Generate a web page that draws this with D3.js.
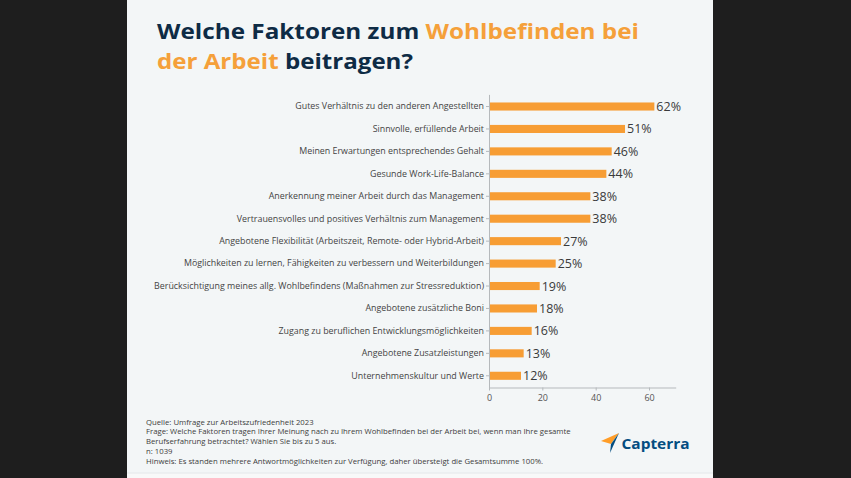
<!DOCTYPE html>
<html>
<head>
<meta charset="utf-8">
<script src="https://cdn.jsdelivr.net/npm/d3@7"></script>
<style>
  html, body { margin: 0; padding: 0; background: #1e1e1e; }
  svg { display: block; font-family: "Open Sans", sans-serif; }
</style>
</head>
<body>
<svg id="chart" width="851" height="478"></svg>
<script>
const categories = [
  "Gutes Verhältnis zu den anderen Angestellten",
  "Sinnvolle, erfüllende Arbeit",
  "Meinen Erwartungen entsprechendes Gehalt",
  "Gesunde Work-Life-Balance",
  "Anerkennung meiner Arbeit durch das Management",
  "Vertrauensvolles und positives Verhältnis zum Management",
  "Angebotene Flexibilität (Arbeitszeit, Remote- oder Hybrid-Arbeit)",
  "Möglichkeiten zu lernen, Fähigkeiten zu verbessern und Weiterbildungen",
  "Berücksichtigung meines allg. Wohlbefindens (Maßnahmen zur Stressreduktion)",
  "Angebotene zusätzliche Boni",
  "Zugang zu beruflichen Entwicklungsmöglichkeiten",
  "Angebotene Zusatzleistungen",
  "Unternehmenskultur und Werte"
];
const values = [62, 51, 46, 44, 38, 38, 27, 25, 19, 18, 16, 13, 12];
const xTicks = [0, 20, 40, 60];
const titleLine1 = [["Welche Faktoren zum ", "navy"], ["Wohlbefinden bei", "orange"]];
const titleLine2 = [["der Arbeit", "orange"], [" beitragen?", "navy"]];
const notes = [
  "Quelle: Umfrage zur Arbeitszufriedenheit 2023",
  "Frage: Welche Faktoren tragen Ihrer Meinung nach zu Ihrem Wohlbefinden bei der Arbeit bei, wenn man Ihre gesamte",
  "Berufserfahrung betrachtet? Wählen Sie bis zu 5 aus.",
  "n: 1039",
  "Hinweis: Es standen mehrere Antwortmöglichkeiten zur Verfügung, daher übersteigt die Gesamtsumme 100%."
];

const COLORS = { navy: "#0e2b45", orange: "#f5a03a", bar: "#f79d34" };
const svg = d3.select("#chart");

// panels
svg.append("rect").attr("x", 0).attr("y", 0).attr("width", 851).attr("height", 478).attr("fill", "#1e1e1e");
svg.append("rect").attr("x", 127).attr("y", 0).attr("width", 586).attr("height", 478).attr("fill", "#f3f6f7");
svg.append("rect").attr("x", 127).attr("y", 473).attr("width", 586).attr("height", 5).attr("fill", "#f8f9f9");
svg.append("line").attr("x1", 127).attr("x2", 713).attr("y1", 473).attr("y2", 473).attr("stroke", "#e4e8ea");

// title
function titleLine(parts, y, width) {
  const t = svg.append("text").attr("x", 157).attr("y", y)
    .attr("font-size", 21).attr("font-weight", 700)
    .attr("textLength", width).attr("lengthAdjust", "spacingAndGlyphs");
  parts.forEach(p => t.append("tspan").text(p[0]).attr("fill", COLORS[p[1]]));
}
titleLine(titleLine1, 38.5, 482);
titleLine(titleLine2, 68.5, 256);

// scales
const x = d3.scaleLinear().domain([0, 70]).range([489, 675.7]);
const y = d3.scaleBand().domain(categories).range([94.4, 387.9]).paddingInner(0.64).paddingOuter(0.36);

// bars
svg.append("g").selectAll("rect").data(values).join("rect")
  .attr("x", x(0))
  .attr("y", (d, i) => y(categories[i]))
  .attr("width", d => x(d) - x(0))
  .attr("height", y.bandwidth())
  .attr("fill", COLORS.bar);

// value labels
svg.append("g").selectAll("text").data(values).join("text")
  .attr("x", d => x(d) + 2)
  .attr("y", (d, i) => y(categories[i]) + y.bandwidth() / 2)
  .attr("dy", "0.36em")
  .attr("font-size", 12.5)
  .attr("fill", "#3a3a3a")
  .text(d => d + "%");

// y axis
const yAxis = svg.append("g").attr("transform", `translate(${x(0)},0)`)
  .call(d3.axisLeft(y).tickSize(3).tickPadding(2).tickSizeOuter(0));
yAxis.select(".domain").attr("stroke", "#b5b9bc");
yAxis.selectAll(".tick line").attr("stroke", "#b5b9bc");
const yLabels = yAxis.selectAll(".tick text").attr("fill", "#444").attr("font-size", 9)
  .attr("font-family", "Open Sans, sans-serif");
let maxW = 0;
yLabels.each(function() { maxW = Math.max(maxW, this.getComputedTextLength()); });
yLabels.attr("font-size", 9 * 330 / maxW);

// x axis
const xAxis = svg.append("g").attr("transform", `translate(0,387.5)`)
  .call(d3.axisBottom(x).tickValues(xTicks).tickSize(3).tickPadding(4).tickSizeOuter(0));
xAxis.select(".domain").attr("stroke", "#b5b9bc");
xAxis.selectAll(".tick line").attr("stroke", "#b5b9bc");
xAxis.selectAll(".tick text").attr("fill", "#555").attr("font-size", 9)
  .attr("font-family", "Open Sans, sans-serif");

// notes
const noteG = svg.append("g");
const noteTexts = noteG.selectAll("text").data(notes).join("text")
  .attr("x", 146)
  .attr("y", (d, i) => 422 + i * 9.7)
  .attr("dy", "0.35em")
  .attr("font-size", 8)
  .attr("fill", "#3d3d3d")
  .text(d => d);
const frageW = noteTexts.filter((d, i) => i === 1).node().getComputedTextLength();
noteTexts.attr("font-size", 8 * 425 / frageW);

// Capterra logo
const logo = svg.append("g");
logo.append("polygon").attr("points", "601,441 619,433 611,444").attr("fill", "#ff9d28");
logo.append("polygon").attr("points", "619,433 611,444 610,453").attr("fill", "#044d80");
logo.append("polygon").attr("points", "619,433 613,441 611,444").attr("fill", "#68c5ed");
logo.append("text").attr("x", 621.5).attr("y", 449)
  .attr("font-size", 15).attr("font-weight", 700).attr("fill", "#044d80")
  .attr("textLength", 68).attr("lengthAdjust", "spacingAndGlyphs")
  .text("Capterra");
</script>
</body>
</html>
